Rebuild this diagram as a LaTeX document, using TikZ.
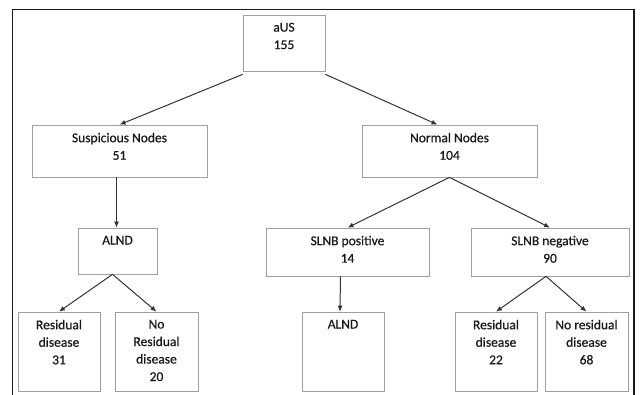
\documentclass[tikz,border=0pt]{standalone}
\usepackage{fontspec}
\setmainfont{Carlito}
\newfontfamily\boxfont{Carlito}[FakeBold=0.6]
\usetikzlibrary{arrows.meta}
\tikzstyle{box}=[rectangle,draw=gray!75,line width=0.7pt,inner sep=0pt]
\tikzstyle{lbl}=[anchor=north,align=center,inner sep=0pt,yshift=-8pt,text=black!90,font=\boxfont\fontsize{13.5}{17.5}\selectfont]
\tikzstyle{link}=[-{Latex[length=6pt,width=5pt]},draw=black!80,line width=1pt]

\begin{document}
\begin{tikzpicture}[x=1pt,y=-1pt]
      \useasboundingbox (0,0) rectangle (642,394);
      \draw[line width=1.6pt,draw=black!90] (12.5,9.5) rectangle (634,397);
      % top
      \node[box,minimum width=82pt,minimum height=56pt,label={[lbl]north:aUS\\155}] at (284,43) (aus) {};
      % second row
      \node[box,minimum width=175pt,minimum height=52pt,label={[lbl]north:Suspicious Nodes\\51}] at (119.5,151) (susp) {};
      \node[box,minimum width=175pt,minimum height=52pt,label={[lbl]north:Normal Nodes\\104}] at (449.5,151) (norm) {};
      % third row
      \node[box,minimum width=79pt,minimum height=46pt,label={[lbl]north:ALND}] at (117.5,251) (alndL) {};
      \node[box,minimum width=163pt,minimum height=48pt,label={[lbl]north:SLNB positive\\14}] at (347.5,252) (slnbP) {};
      \node[box,minimum width=158pt,minimum height=48pt,label={[lbl]north:SLNB negative\\90}] at (550,252) (slnbN) {};
      % bottom row
      \node[box,minimum width=82pt,minimum height=79pt,label={[lbl]north:Residual\\disease\\31}] at (59,351.5) (resL) {};
      \node[box,minimum width=83pt,minimum height=79pt,label={[lbl]north:No\\Residual\\disease\\20}] at (156.5,351.5) (noresL) {};
      \node[box,minimum width=82pt,minimum height=79pt,label={[lbl]north:ALND}] at (343,351.5) (alndR) {};
      \node[box,minimum width=82pt,minimum height=79pt,label={[lbl]north:Residual\\disease\\22}] at (496,351.5) (resR) {};
      \node[box,minimum width=83pt,minimum height=79pt,label={[lbl]north:No residual\\disease\\68}] at (586.5,351.5) (noresR) {};
      % links
      \draw[link] ([yshift=-3pt]aus.south west) -- (susp.north);
      \draw[link] ([yshift=-3pt]aus.south east) -- ([xshift=-12pt]norm.north);
      \draw[link] ([xshift=-3pt]susp.south) -- ([xshift=-1pt]alndL.north);
      \draw[link] ([xshift=-5pt]alndL.south) -- (resL.north);
      \draw[link] ([xshift=-5pt]alndL.south) -- (noresL.north);
      \draw[link] (norm.south) -- (slnbP.north);
      \draw[link] (norm.south) -- (slnbN.north);
      \draw[link] ([xshift=-7pt]slnbP.south) -- ([xshift=-3pt]alndR.north);
      \draw[link] ([xshift=-4pt]slnbN.south) -- (resR.north);
      \draw[link] ([xshift=-4pt]slnbN.south) -- (noresR.north);
\end{tikzpicture}
\end{document}
